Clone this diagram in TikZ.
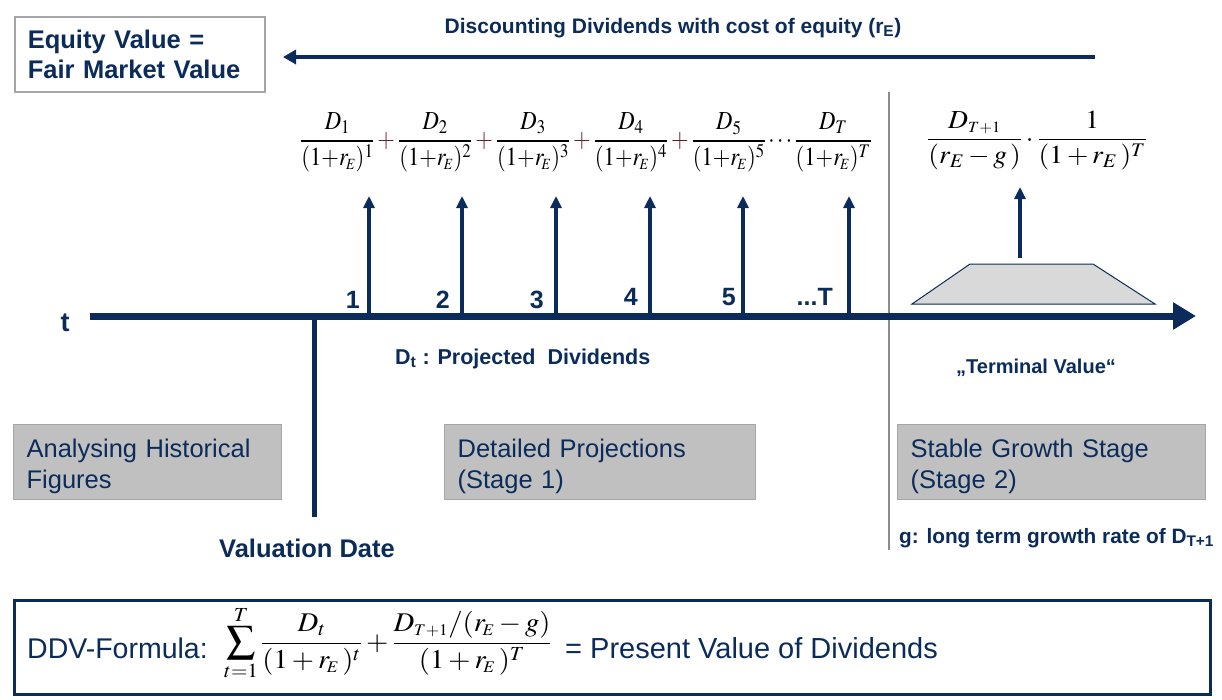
\documentclass[tikz,border=0pt]{standalone}
\usepackage{mathptmx}
\usepackage[no-math]{fontspec}
\setmainfont{Liberation Sans}
\usetikzlibrary{arrows.meta}
\definecolor{navy}{HTML}{0B2C5A}
\definecolor{boxfill}{HTML}{C0C0C0}
\definecolor{boxline}{HTML}{A6A6A6}
\definecolor{trapfill}{HTML}{D9D9D9}
\definecolor{vline}{HTML}{8C8C8C}
\definecolor{plusc}{HTML}{5E1F2B}
\newcommand{\pl}{\mathbin{\textcolor{plusc}{+}}}
\newcommand{\rE}{r_{\!\scriptscriptstyle E}}
\newcommand{\dn}[1]{(1{+}\rE)^{#1}}
\begin{document}
\begin{tikzpicture}[x=1pt,y=-1pt,
  lbl/.style={text=navy,font=\bfseries\fontsize{20}{24}\selectfont,inner sep=0pt},
  num/.style={text=navy,font=\bfseries\fontsize{25}{29}\selectfont,inner sep=0pt,anchor=base east},
  stagebox/.style={draw=boxline,fill=boxfill,line width=1.2pt,anchor=north west,
     text height=33pt,text depth=42pt,text width=242pt,inner xsep=13pt,inner ysep=0pt,align=left,
     text=navy,font=\fontsize{25.5}{31}\selectfont},
  tick/.style={navy,line width=4pt,-{Triangle[length=12pt,width=11pt]}},
  frm/.style={inner sep=0pt,anchor=base}]
\useasboundingbox (0,0) rectangle (1222,699);

% equity box
\node[draw=boxline,line width=1.5pt,fill=white,anchor=north west,minimum width=250pt,minimum height=75pt,
  text width=224pt,inner xsep=13pt,align=left,text=navy,font=\bfseries\fontsize{25.5}{30}\selectfont]
  (eq) at (14,16) {Equity Value =\\Fair Market Value};

% discounting arrow
\coordinate (dA) at (1095,57);
\coordinate (dB) at (283,57);
\draw[navy,line width=4pt,-{Triangle[length=13pt,width=14pt]}] (dA) -- (dB);
\node[lbl,font=\bfseries\fontsize{21}{25}\selectfont,anchor=base] (disc) at (673,33) {Discounting Dividends with cost of equity (r\textsubscript{E})};

% vertical separator
\coordinate (vs1) at (889,92);
\coordinate (vs2) at (889,550);
\draw[vline,line width=1.5pt] (vs1) -- (vs2);

% timeline
\coordinate (tl) at (90,316);
\coordinate (tr) at (1196,316);
\draw[navy,line width=7pt,-{Triangle[length=23pt,width=26pt]}] (tl) -- (tr);
\node[lbl,font=\bfseries\fontsize{27}{30}\selectfont,anchor=base] (t) at (65,331) {t};

% valuation date
\coordinate (vd1) at (314,313);
\coordinate (vd2) at (314,517);
\draw[navy,line width=5pt] (vd1) -- (vd2);
\node[lbl,font=\bfseries\fontsize{25.5}{30}\selectfont,anchor=base] (vdl) at (307,557) {Valuation Date};

% ticks
\foreach \n/\x in {1/369,2/462,3/556,4/650,5/743,6/849}{
  \coordinate (b\n) at (\x,313);
  \coordinate (u\n) at (\x,196);
  \draw[tick] (b\n) -- (u\n);
}
\node[num] (n1) at (360,308) {1};
\node[num] (n2) at (450,308) {2};
\node[num] (n3) at (544,308) {3};
\node[num] (n4) at (638,305) {4};
\node[num] (n5) at (736,305) {5};
\node[num] (n6) at (833,305) {...T};

% formulas
\node[frm,font=\fontsize{26}{30}\selectfont] (fr) at (586,147.5) {\scalebox{0.87}[1]{$\displaystyle
 \frac{D_1}{\dn{1}}\pl\frac{D_2}{\dn{2}}\pl\frac{D_3}{\dn{3}}\pl
 \frac{D_4}{\dn{4}}\pl\frac{D_5}{\dn{5}}\cdots\frac{D_T}{\dn{T}}$}};
\node[frm,font=\fontsize{26}{30}\selectfont] (tvf) at (1037,146) {\scalebox{1.06}[1]{$\displaystyle\frac{D_{\scriptscriptstyle T+1}}{(r_E-g\,)}\cdot\frac{1}{(1+r_E\,)^T}$}};

% terminal value
\draw[navy,line width=1pt,fill=trapfill] (912,304) -- (970,264) -- (1093,264) -- (1155,304) -- cycle;
\coordinate (ta) at (1020,258);
\coordinate (tb) at (1020,187);
\draw[tick] (ta) -- (tb);
\node[lbl,anchor=base] (tvl) at (1036,373) {\char"201E Terminal Value\char"201C};

\node[lbl,font=\bfseries\fontsize{21.5}{25}\selectfont,anchor=base west] (dt) at (395,364) {D\textsubscript{t} : Projected\ \ Dividends};

% stage boxes
\node[stagebox] (s0) at (13,424) {Analysing Historical\\Figures};
\node[stagebox,text width=285pt] (s1) at (444,424) {Detailed Projections\\(Stage 1)};
\node[stagebox,text width=282pt] (s2) at (897,424) {Stable Growth Stage\\(Stage 2)};

\node[lbl,font=\bfseries\fontsize{20.8}{24}\selectfont,anchor=base west] (g) at (899,543) {g: long term growth rate of D\textsubscript{T+1}};

% bottom formula box
\node[draw=navy,line width=2.5pt,fill=white,anchor=north west,minimum width=1196pt,minimum height=94pt] (bb) at (13,599) {};
\node[inner sep=0pt,anchor=base west,text=navy,font=\fontsize{28.5}{34}\selectfont] (ddv) at (27,658)
 {DDV-Formula:};
\node[frm,anchor=base west,font=\fontsize{27}{30}\selectfont] (sumf) at (224,650)
 {\scalebox{1.06}[1]{$\displaystyle\sum_{t=1}^{T}\frac{D_t}{(1+\rE\,)^t}+\frac{D_{\scriptscriptstyle T+1}/(\rE-g)}{(1+\rE\,)^T}$}};
\node[inner sep=0pt,anchor=base west,text=navy,font=\fontsize{29}{34}\selectfont] (pv) at (565,658)
 {= Present Value of Dividends};
\end{tikzpicture}
\end{document}
